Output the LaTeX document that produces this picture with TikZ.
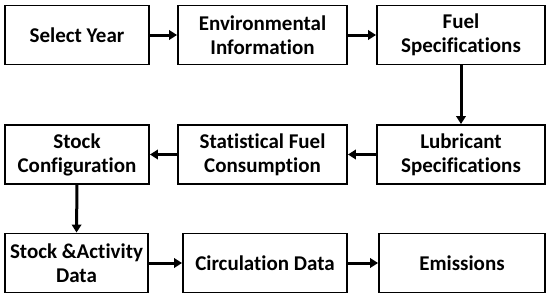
\documentclass[tikz,border=0pt]{standalone}
\usepackage{fontspec}
\setmainfont{Carlito}[Ligatures=NoCommon]
\usepackage{tikz}
\usetikzlibrary{positioning, arrows.meta}

\begin{document}
\begin{tikzpicture}[x=1pt, y=-1pt,
          box/.style={rectangle, draw=black, line width=1.9pt, align=center,
                      minimum height=59pt, inner sep=2pt,
                      font=\fontsize{21}{24}\selectfont\bfseries},
          arr/.style={-{Triangle[length=8pt,width=9.5pt]}, line width=3pt}
        ]
        \useasboundingbox (0,0) rectangle (550,298);

        % First row
        \node[box, minimum width=144pt] (year) at (77, 35) {Select Year};
        \node[box, minimum width=169pt] (env)  at (262.5, 35)
              {Environmental\\Information};
        \node[box, minimum width=168pt] (fuel) at (461, 35)
              {Fuel\\Specifications};

        % Second row
        \node[box, minimum width=168pt] (lube) at (461, 154.5)
              {Lubricant\\Specifications};
        \node[box, minimum width=169pt] (stat) at (262.5, 154.5)
              {Statistical Fuel\\Consumption};
        \node[box, minimum width=144pt] (conf) at (77, 154.5)
              {Stock\\Configuration};

        % Third row
        \node[box, minimum width=143pt] (act)  at (76.5, 263)
              {Stock \&Activity\\Data};
        \node[box, minimum width=164pt] (circ) at (265, 263)
              {Circulation Data};
        \node[box, minimum width=166pt] (emis) at (462, 263) {Emissions};

        \draw[arr] (year.east) -- (env.west);
        \draw[arr] (env.east)  -- (fuel.west);
        \draw[arr] (fuel.south) -- (lube.north);
        \draw[arr] (lube.west) -- (stat.east);
        \draw[arr] (stat.west) -- (conf.east);
        \draw[arr] (conf.south) -- (act.north);
        \draw[arr] (act.east)  -- (circ.west);
        \draw[arr] (circ.east) -- (emis.west);
      \end{tikzpicture}
\end{document}
